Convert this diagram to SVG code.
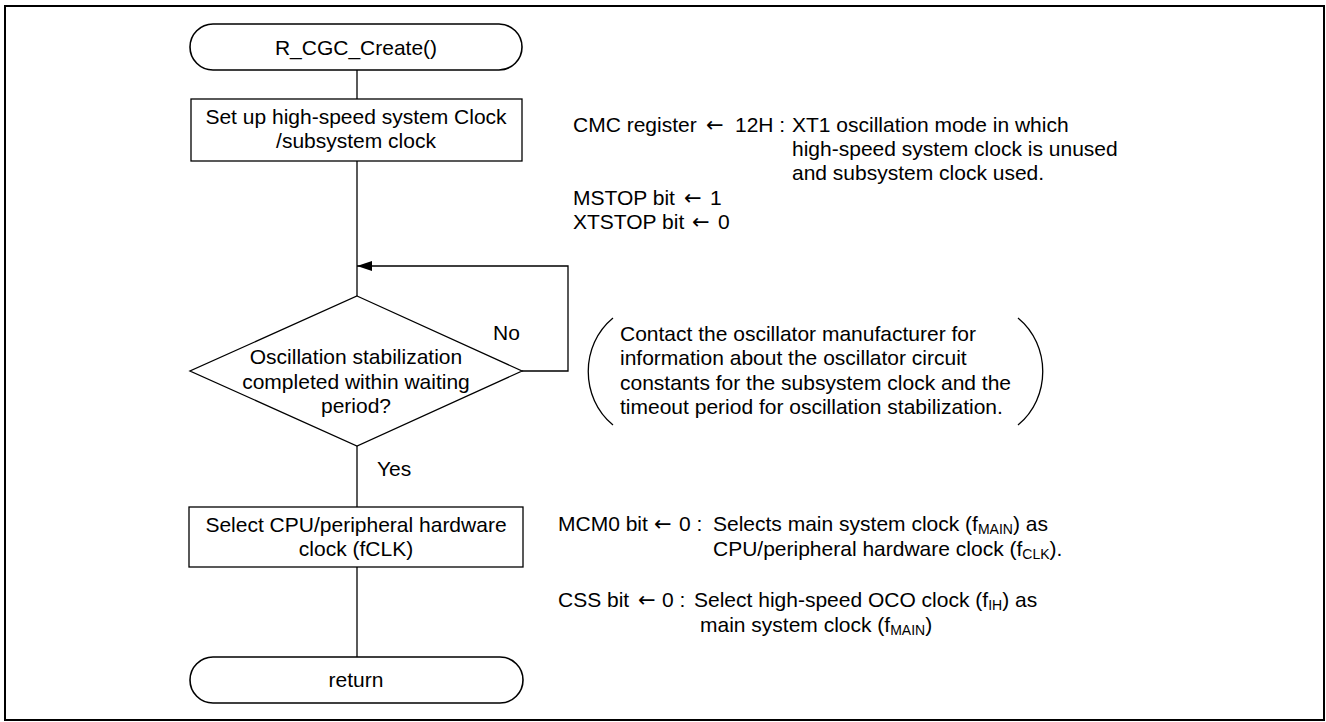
<svg xmlns="http://www.w3.org/2000/svg" width="1326" height="722" viewBox="0 0 1326 722">
<defs>
<style>
text{font-family:"Liberation Sans",Arial,sans-serif;font-size:21px;fill:#000}
.c{text-anchor:middle}
.ar{font-family:"DejaVu Sans","Liberation Sans",sans-serif;font-size:21px}
.shape{fill:#fff;stroke:#000;stroke-width:1.3}
.term{fill:#fff;stroke:#000;stroke-width:1.6}
.ln{fill:none;stroke:#000;stroke-width:1.3}
.sub{font-size:14px}
</style>
<marker id="ah" markerWidth="15" markerHeight="10" refX="15" refY="5" orient="auto" markerUnits="userSpaceOnUse">
<path d="M0,0 L15,5 L0,10 Z" fill="#000"/>
</marker>
</defs>
<rect x="5" y="6" width="1319" height="714" fill="#fff" stroke="#000" stroke-width="2"/>
<g id="connectors">
<path class="ln" d="M357,70 V99"/>
<path class="ln" d="M357,161 V296"/>
<path class="ln" d="M522,371 H568 V266 H357" marker-end="url(#ah)"/>
<path class="ln" d="M357,446 V507"/>
<path class="ln" d="M357,567 V657"/>
<text x="493" y="340">No</text>
<text x="377" y="476">Yes</text>
</g>
<g id="start">
<rect class="term" x="190" y="24" width="332" height="46" rx="23"/>
<text class="c" x="356" y="55">R_CGC_Create()</text>
</g>
<g id="setup">
<rect class="shape" x="191" y="99" width="331" height="62"/>
<text class="c" x="356" y="124">Set up high-speed system Clock</text>
<text class="c" x="356" y="148">/subsystem clock</text>
</g>
<g id="decision">
<polygon class="shape" points="357,296 522,371 357,446 190,371"/>
<text class="c" x="356" y="364">Oscillation stabilization</text>
<text class="c" x="356" y="389">completed within waiting</text>
<text class="c" x="356" y="413">period?</text>
</g>
<g id="select">
<rect class="shape" x="189" y="507" width="334" height="60"/>
<text class="c" x="356" y="532">Select CPU/peripheral hardware</text>
<text class="c" x="356" y="556">clock (fCLK)</text>
</g>
<g id="return">
<rect class="term" x="190" y="657" width="333" height="46" rx="23"/>
<text class="c" x="356" y="687">return</text>
</g>
<g id="note-cmc">
<text x="573" y="132">CMC register<tspan class="ar" x="706">←</tspan><tspan x="735">12H :</tspan><tspan x="792">XT1 oscillation mode in which</tspan></text>
<text x="792" y="156">high-speed system clock is unused</text>
<text x="792" y="180">and subsystem clock used.</text>
<text x="573" y="205">MSTOP bit<tspan class="ar" x="684">←</tspan><tspan x="710">1</tspan></text>
<text x="573" y="229">XTSTOP bit<tspan class="ar" x="692">←</tspan><tspan x="718">0</tspan></text>
</g>
<g id="note-osc">
<path class="ln" d="M613,318 C580,345 580,398 613,425"/>
<path class="ln" d="M1018,318 C1051,345 1051,398 1018,425"/>
<text x="620" y="341">Contact the oscillator manufacturer for</text>
<text x="620" y="365">information about the oscillator circuit</text>
<text x="620" y="390">constants for the subsystem clock and the</text>
<text x="620" y="414">timeout period for oscillation stabilization.</text>
</g>
<g id="note-clk">
<text x="558" y="531">MCM0 bit<tspan class="ar" x="654">←</tspan><tspan x="679">0 :</tspan><tspan x="713">Selects main system clock (f</tspan><tspan class="sub" dy="3">MAIN</tspan><tspan dy="-3">) as</tspan></text>
<text x="713" y="556">CPU/peripheral hardware clock (f<tspan class="sub" dy="3">CLK</tspan><tspan dy="-3">).</tspan></text>
<text x="558" y="607">CSS bit<tspan class="ar" x="638">←</tspan><tspan x="662">0 :</tspan><tspan x="694">Select high-speed OCO clock (f</tspan><tspan class="sub" dy="3">IH</tspan><tspan dy="-3">) as</tspan></text>
<text x="700" y="632">main system clock (f<tspan class="sub" dy="3">MAIN</tspan><tspan dy="-3">)</tspan></text>
</g>
</svg>
